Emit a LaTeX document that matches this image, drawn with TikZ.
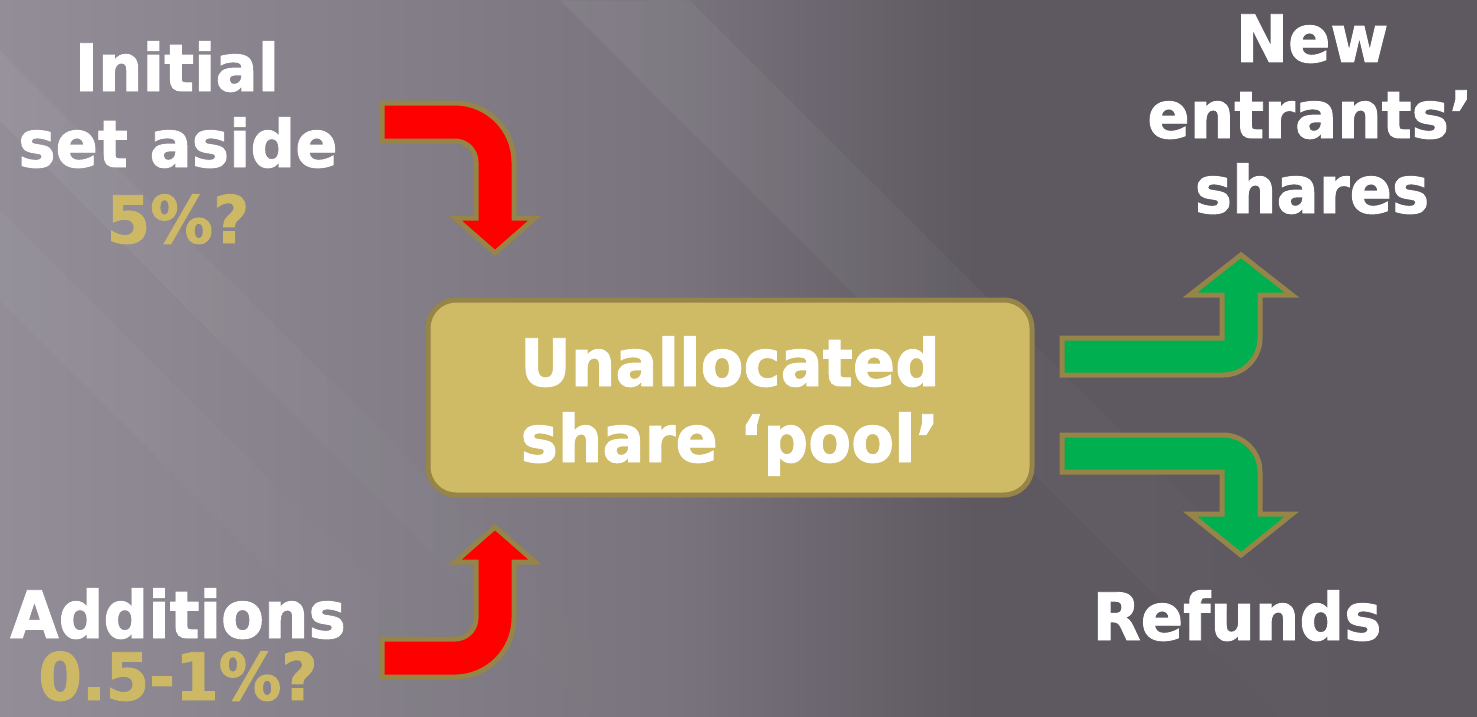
\documentclass[tikz,border=0pt]{standalone}
\usepackage{fontspec}
\usetikzlibrary{fadings}
\setmainfont{DejaVu Sans}
\newfontfamily\heavyfont{DejaVu Sans Bold}[FakeBold=1.4,FakeStretch=0.955]
\definecolor{bord}{RGB}{150,132,72}
\definecolor{boxfill}{RGB}{207,186,102}
\definecolor{gold}{RGB}{205,184,102}
\definecolor{redar}{RGB}{255,0,0}
\definecolor{greenar}{RGB}{0,176,80}
\definecolor{bgL}{RGB}{146,141,151}
\definecolor{bgM}{RGB}{120,115,124}
\definecolor{bgR}{RGB}{94,89,97}
\pgfdeclarehorizontalshading{bgshade}{100bp}{color(0bp)=(bgL); color(25bp)=(bgL); color(48bp)=(bgM); color(58bp)=(bgR); color(100bp)=(bgR)}
\tikzfading[name=fadeleft, left color=transparent!0, right color=transparent!100]
\begin{document}
\begin{tikzpicture}[x=1pt,y=-1pt,
  lbl/.style={font=\fontsize{65.5}{76}\heavyfont, text=white, anchor=base, inner sep=0pt},
  goldlbl/.style={lbl, text=gold},
  blockarrow/.style={draw=bord, line width=5pt, line join=miter},
  poolbox/.style={draw=bord, fill=boxfill, line width=5pt, rounded corners=28pt, minimum width=604pt, minimum height=195pt, inner sep=0pt},
  streak/.style={fill=white, opacity=0.06, path fading=fadeleft}]
% background
\useasboundingbox (0,0) rectangle (1477,717);
\fill[shading=bgshade] (0,0) rectangle (1477,717);
\begin{scope}
\clip (0,0) rectangle (1477,717);
\foreach \c/\w in {560/130, -300/90, -120/70}{
  \fill[streak] (\c,0) -- (\c+\w,0) -- (\c+\w+720,720) -- (\c+720,720) -- cycle;
}
\end{scope}

% central box
\node[poolbox] (pool) at (730,397.5) {};
\node[lbl] (pool1) at (730,386) {Unallocated};
\node[lbl] (pool2) at (730,462) {share ‘pool’};

% left labels
\node[lbl] (init1) at (177,91) {Initial};
\node[lbl] (init2) at (178,167) {set aside};
\node[goldlbl] (init3) at (178,243) {5\%?};
\node[lbl] (add1) at (178,638) {Additions};
\node[goldlbl, text depth=0pt] (add2) at (178,700) {0.5-1\%?};

% right labels
\node[lbl] (new1) at (1312,62) {New};
\node[lbl] (new2) at (1310,138) {entrants’};
\node[lbl] (new3) at (1312,213) {shares};
\node[lbl] (ref) at (1237,640) {Refunds};

% red arrows
\draw[blockarrow, fill=redar] (382,103) -- (455,103) arc[start angle=-90,end angle=0,radius=59] -- (514,218) -- (535,218) -- (495,253) -- (455,218) -- (476,218) -- (476,162) arc[start angle=0,end angle=-90,radius=21] -- (382,141) -- cycle;
\draw[blockarrow, fill=redar] (382,677) -- (455,677) arc[start angle=90,end angle=0,radius=59] -- (514,562) -- (535,562) -- (495,527) -- (455,562) -- (476,562) -- (476,618) arc[start angle=0,end angle=90,radius=21] -- (382,639) -- cycle;

% green arrows
\draw[blockarrow, fill=greenar] (1062,338) -- (1222,338) -- (1222,295) -- (1190,295) -- (1241,255) -- (1292,295) -- (1260,295) -- (1260,338) arc[start angle=0,end angle=90,radius=37] -- (1062,375) -- cycle;
\draw[blockarrow, fill=greenar] (1062,435) -- (1223,435) arc[start angle=-90,end angle=0,radius=37] -- (1260,514) -- (1292,514) -- (1241,555) -- (1190,514) -- (1222,514) -- (1222,472) -- (1062,472) -- cycle;
\end{tikzpicture}
\end{document}
